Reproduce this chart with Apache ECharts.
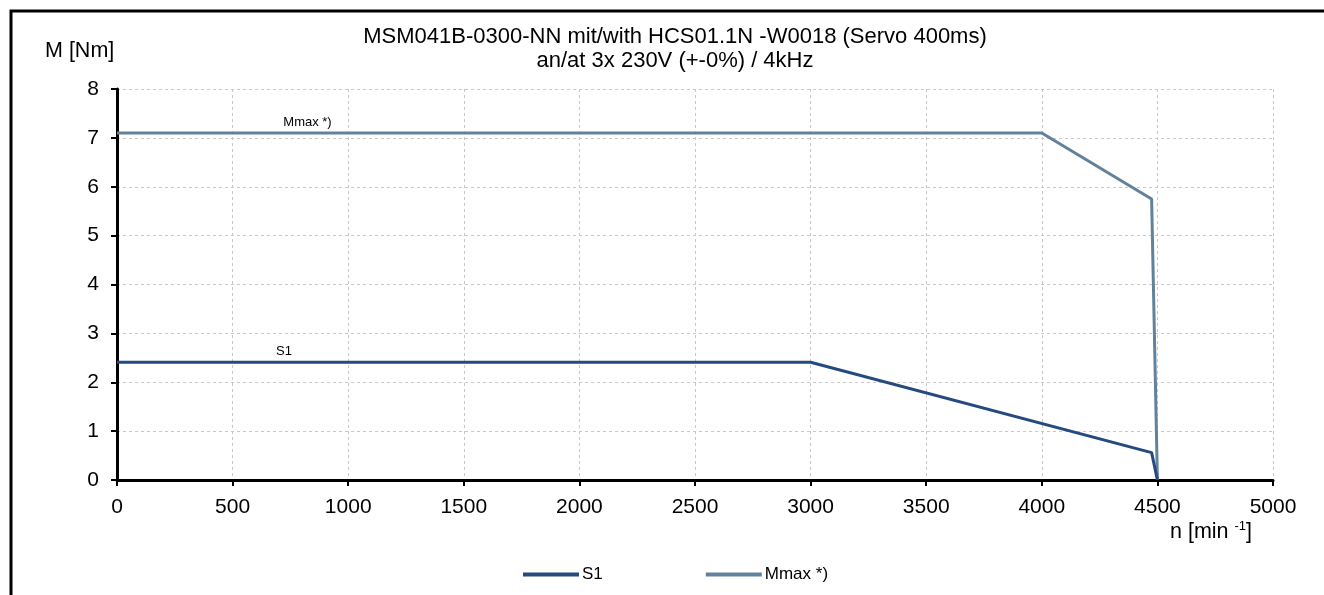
<!DOCTYPE html>
<html>
<head>
<meta charset="utf-8">
<script src="https://cdn.jsdelivr.net/npm/echarts@6/dist/echarts.min.js"></script>
<style>
html,body{margin:0;padding:0;background:#fff;}
#c{width:1324px;height:595px;}
</style>
</head>
<body>
<div id="c"></div>
<script>
const titleLines = ['MSM041B-0300-NN mit/with HCS01.1N -W0018 (Servo 400ms)', 'an/at 3x 230V (+-0%) / 4kHz'];
const s1Speed = [0, 3000, 4475, 4500];
const s1Torque = [2.41, 2.41, 0.56, 0];
const mmaxSpeed = [0, 4000, 4475, 4500];
const mmaxTorque = [7.1, 7.1, 5.75, 0];
const seriesNames = ['S1', 'Mmax *)'];
const seriesColors = ['#244a80', '#62819a'];
const labelPos = [[722, 2.41], [824, 7.1]];

const font = 'Liberation Sans, Arial, sans-serif';
const chart = echarts.init(document.getElementById('c'));

function pairs(xs, ys) { return xs.map((x, i) => [x, ys[i]]); }

const datasets = [pairs(s1Speed, s1Torque), pairs(mmaxSpeed, mmaxTorque)];

chart.setOption({
  animation: false,
  backgroundColor: '#fff',
  textStyle: { fontFamily: font },
  title: {
    text: titleLines.join('\n'),
    left: 670, textAlign: 'center', top: 20,
    textStyle: { fontFamily: font, fontSize: 22, fontWeight: 'normal', color: '#000', lineHeight: 24 }
  },
  graphic: [
    { type: 'rect', shape: { x: 11, y: 11, width: 1400, height: 700 }, style: { fill: 'none', stroke: '#000', lineWidth: 3 } },
    { type: 'text', left: 45, top: 40, style: { text: 'M [Nm]', font: '21.5px ' + font, fill: '#000' } },
    { type: 'text', left: 1170, top: 520, style: {
        text: '{n|n [min }{s|-1}{n|]}',
        rich: { n: { font: '21.5px ' + font, fill: '#000' }, s: { font: '13px ' + font, fill: '#000', verticalAlign: 'top', padding: [0, 0, 12, 0] } }
      } }
  ],
  legend: {
    left: 518, top: 561,
    itemWidth: 56, itemHeight: 4, itemGap: 103,
    icon: 'rect',
    textStyle: { fontFamily: font, fontSize: 17, color: '#000', padding: [0, 0, 0, -2] },
    data: seriesNames
  },
  grid: { left: 117, right: 51, top: 89, bottom: 115, containLabel: false, outerBoundsMode: 'none' },
  xAxis: {
    type: 'value', min: 0, max: 5000, interval: 500,
    axisLine: { show: true, lineStyle: { color: '#000', width: 3 } },
    axisTick: { show: true, length: 6, lineStyle: { color: '#000', width: 2 } },
    axisLabel: { color: '#000', fontSize: 21, fontFamily: font, margin: 17, formatter: v => String(v) },
    splitLine: { show: true, lineStyle: { color: '#c8c8c8', type: [3, 3], width: 1 } }
  },
  yAxis: {
    type: 'value', min: 0, max: 8, interval: 1,
    axisLine: { show: true, lineStyle: { color: '#000', width: 3 } },
    axisTick: { show: true, length: 6, lineStyle: { color: '#000', width: 2 } },
    axisLabel: { color: '#000', fontSize: 21, fontFamily: font, margin: 18 },
    splitLine: { show: true, lineStyle: { color: '#c8c8c8', type: [3, 3], width: 1 } }
  },
  series: seriesNames.map((name, i) => ({
    name: name,
    type: 'line',
    data: datasets[i],
    showSymbol: false,
    symbol: 'none',
    lineStyle: { color: seriesColors[i], width: 3 },
    itemStyle: { color: seriesColors[i] },
    z: 3 - i,
    markPoint: {
      symbol: 'circle', symbolSize: 0,
      label: { show: true, position: 'top', distance: 4, formatter: name, color: '#000', fontSize: 13, fontFamily: font },
      data: [{ coord: labelPos[i] }]
    }
  }))
});
</script>
</body>
</html>
